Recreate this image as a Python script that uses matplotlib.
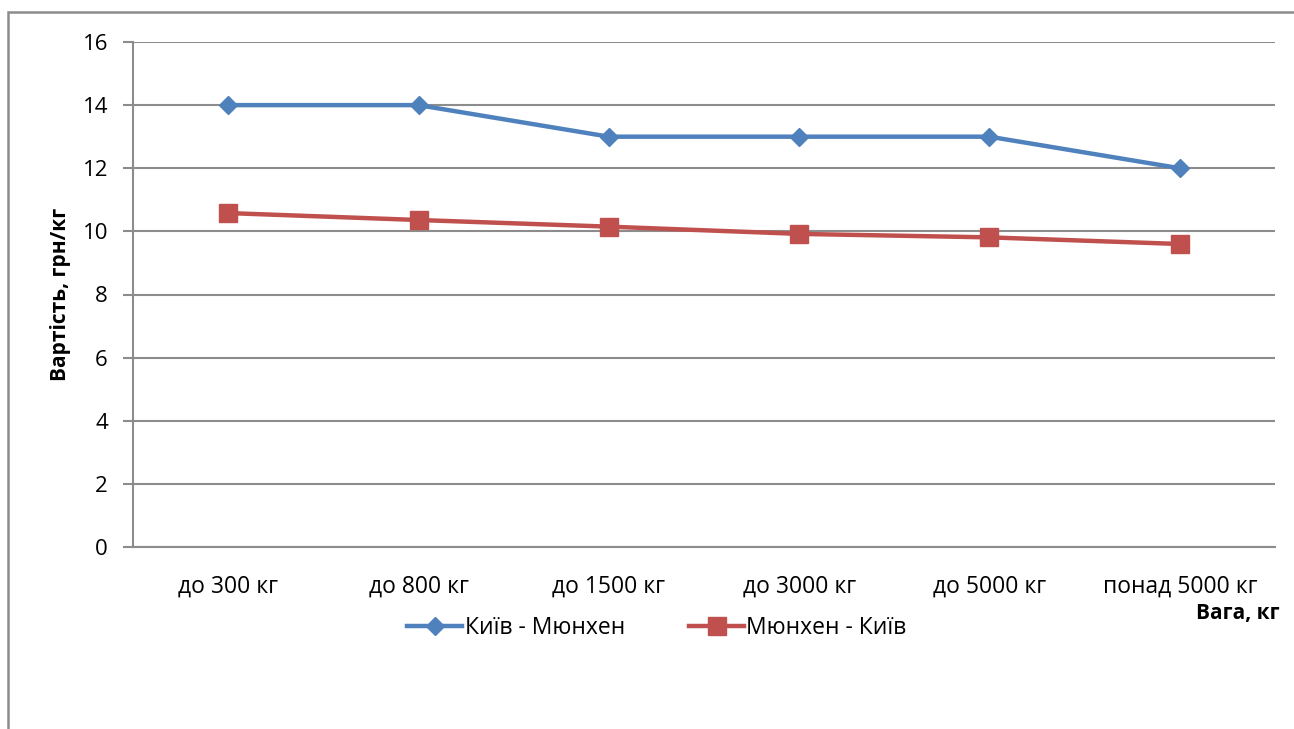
import matplotlib.pyplot as plt
from matplotlib.lines import Line2D
from matplotlib.patches import Rectangle

plt.rcParams['font.family'] = ['Open Sans', 'DejaVu Sans']

categories = ['до 300 кг', 'до 800 кг', 'до 1500 кг', 'до 3000 кг', 'до 5000 кг', 'понад 5000 кг']
kyiv_munich = [14, 14, 13, 13, 13, 12]
munich_kyiv = [10.58, 10.36, 10.15, 9.92, 9.81, 9.6]
y_ticks = [0, 2, 4, 6, 8, 10, 12, 14, 16]

W, H = 1294, 729
fig = plt.figure(figsize=(W / 100, H / 100), dpi=100)
ax = fig.add_axes([133 / W, 1 - 547 / H, (1275 - 133) / W, (547 - 42) / H])

blue = '#4F81BD'
red = '#C0504D'
grid_c = '#8C8C8C'

x = range(len(categories))
ax.plot(x, kyiv_munich, color=blue, lw=3.2, marker='D', markersize=9.5,
        markeredgecolor=blue, solid_capstyle='round', label='Київ - Мюнхен', zorder=3)
ax.plot(x, munich_kyiv, color=red, lw=3.2, marker='s', markersize=12.5,
        markeredgecolor=red, solid_capstyle='round', label='Мюнхен - Київ', zorder=3)

ax.set_xlim(-0.5, len(categories) - 0.5)
ax.set_ylim(0, 16)
ax.set_yticks(y_ticks)
ax.set_xticks(list(x))
ax.set_xticklabels(categories)
ax.tick_params(axis='y', length=7, width=1.5, color=grid_c, labelsize=16, pad=11)
ax.tick_params(axis='x', length=0, labelsize=16.5, pad=20)
ax.grid(axis='y', color=grid_c, lw=1.5)
ax.set_axisbelow(True)
for side in ['top', 'right']:
    ax.spines[side].set_visible(False)
for side in ['left', 'bottom']:
    ax.spines[side].set_color(grid_c)
    ax.spines[side].set_linewidth(1.5)

ax.set_ylabel('Вартість, грн/кг', fontsize=15, fontweight='bold', labelpad=8)
fig.text(1280 / W, 1 - 613 / H, 'Вага, кг', ha='right', va='center',
         fontsize=15, fontweight='bold')

handles = [Line2D([], [], color=blue, lw=3.2, marker='D', markersize=9.5),
           Line2D([], [], color=red, lw=3.2, marker='s', markersize=12.5)]
fig.legend(handles, ['Київ - Мюнхен', 'Мюнхен - Київ'], loc='center',
           bbox_to_anchor=(657 / W, 1 - 628 / H), ncol=2, frameon=False,
           fontsize=16.5, handlelength=2.4, handletextpad=0.1, columnspacing=2.8)

# outer chart border
fig.patches.append(Rectangle((8 / W, -0.1), 1.2, 1 - 12 / H + 0.1,
                             transform=fig.transFigure, fill=False,
                             edgecolor='#8C8C8C', lw=1.8))

fig.savefig('out.png', dpi=100)
